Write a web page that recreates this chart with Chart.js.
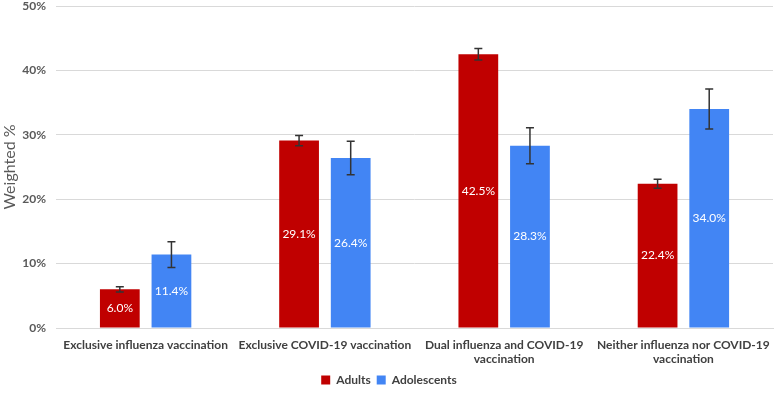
<!DOCTYPE html>
<html>
<head>
<meta charset="utf-8">
<script src="https://cdn.jsdelivr.net/npm/chart.js@4"></script>
<style>
  html, body { margin: 0; padding: 0; background: #fff; }
  #wrap { width: 780px; height: 396px; }
</style>
</head>
<body>
<div id="wrap"><canvas id="chart"></canvas></div>
<script>
const categories = [
    'Exclusive influenza vaccination',
    'Exclusive COVID-19 vaccination',
    ['Dual influenza and COVID-19', 'vaccination'],
    ['Neither influenza nor COVID-19', 'vaccination']
];
const adults = [6.0, 29.1, 42.5, 22.4];
const adolescents = [11.4, 26.4, 28.3, 34.0];
// half-width of the error bars
const adultsErr = [0.4, 0.8, 0.9, 0.7];
const adolescentsErr = [2.0, 2.6, 2.8, 3.1];
const yTicks = [0, 10, 20, 30, 40, 50];

const textColor = '#595959';
const fontFamily = 'Lato, "Open Sans", sans-serif';

// draws the error whiskers for each bar
const errorBars = {
    id: 'errorBars',
    afterDatasetsDraw(chart) {
        const ctx = chart.ctx;
        const y = chart.scales.y;
        ctx.save();
        ctx.strokeStyle = '#333333';
        ctx.lineWidth = 1.5;
        chart.data.datasets.forEach((ds, i) => {
            const meta = chart.getDatasetMeta(i);
            meta.data.forEach((bar, j) => {
                const v = ds.data[j];
                const e = ds.errors[j];
                const top = y.getPixelForValue(v + e);
                const bottom = y.getPixelForValue(v - e);
                ctx.beginPath();
                ctx.moveTo(bar.x, top);
                ctx.lineTo(bar.x, bottom);
                ctx.moveTo(bar.x - 4, top);
                ctx.lineTo(bar.x + 4, top);
                ctx.moveTo(bar.x - 4, bottom);
                ctx.lineTo(bar.x + 4, bottom);
                ctx.stroke();
            });
        });
        ctx.restore();
    }
};

// white value labels in the middle of each bar
const barLabels = {
    id: 'barLabels',
    afterDatasetsDraw(chart) {
        const ctx = chart.ctx;
        ctx.save();
        ctx.fillStyle = '#ffffff';
        ctx.font = '12px ' + fontFamily;
        ctx.textAlign = 'center';
        ctx.textBaseline = 'middle';
        chart.data.datasets.forEach((ds, i) => {
            chart.getDatasetMeta(i).data.forEach((bar, j) => {
                const mid = (bar.y + bar.base) / 2;
                ctx.fillText(ds.data[j].toFixed(1) + '%', bar.x, mid);
            });
        });
        ctx.restore();
    }
};

new Chart(document.getElementById('chart'), {
    type: 'bar',
    data: {
        labels: categories,
        datasets: [
            {
                label: 'Adults',
                data: adults,
                errors: adultsErr,
                backgroundColor: '#C00000',
                categoryPercentage: 0.576,
                barPercentage: 0.77
            },
            {
                label: 'Adolescents',
                data: adolescents,
                errors: adolescentsErr,
                backgroundColor: '#4285F4',
                categoryPercentage: 0.576,
                barPercentage: 0.77
            }
        ]
    },
    options: {
        responsive: true,
        maintainAspectRatio: false,
        animation: false,
        layout: { padding: { top: 0, right: 2, left: 0, bottom: 0 } },
        plugins: {
            legend: {
                position: 'bottom',
                labels: {
                    boxWidth: 9,
                    boxHeight: 9,
                    padding: 6,
                    color: '#404040',
                    font: { family: fontFamily, size: 12, weight: 'bold' }
                }
            },
            tooltip: { enabled: false }
        },
        scales: {
            x: {
                grid: { display: false, drawTicks: false },
                border: { color: '#d9d9d9' },
                afterFit: axis => { axis.height = 40; },
                ticks: {
                    color: '#404040',
                    maxRotation: 0,
                    autoSkip: false,
                    padding: 10,
                    font: { family: fontFamily, size: 12, weight: 'bold', lineHeight: 1.15 }
                }
            },
            y: {
                min: 0,
                max: 50,
                afterBuildTicks: axis => { axis.ticks = yTicks.map(v => ({ value: v })); },
                afterFit: axis => { axis.width = 56; axis.paddingTop = 6; },
                grid: { color: '#d9d9d9', drawTicks: false },
                border: { display: false },
                title: {
                    display: true,
                    text: 'Weighted %',
                    color: textColor,
                    padding: { top: 0, bottom: 2 },
                    font: { family: fontFamily, size: 16 }
                },
                ticks: {
                    color: textColor,
                    padding: 10,
                    font: { family: fontFamily, size: 12, weight: 'bold' },
                    callback: v => v + '%'
                }
            }
        }
    },
    plugins: [errorBars, barLabels]
});
</script>
</body>
</html>
